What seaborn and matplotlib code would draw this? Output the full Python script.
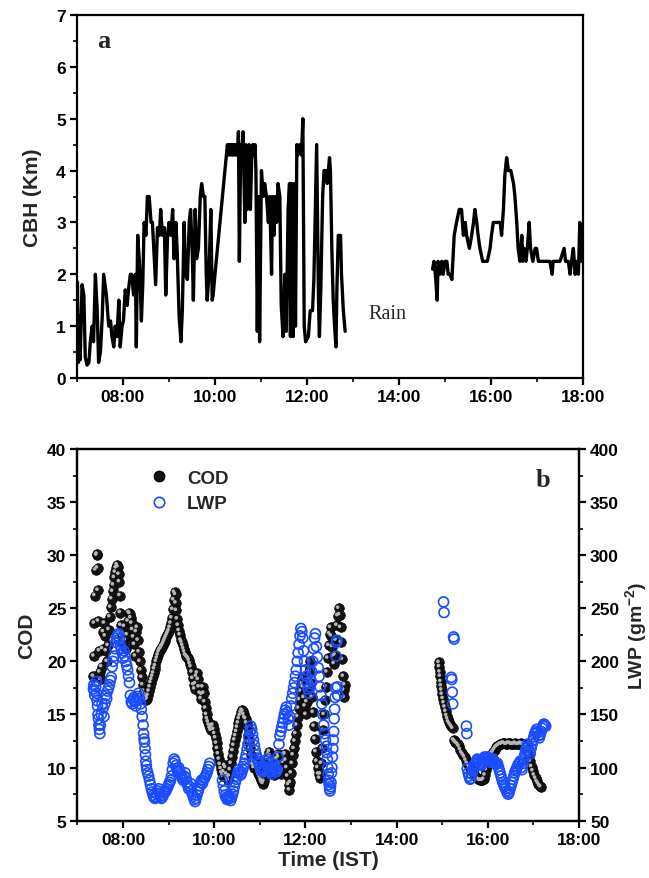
import matplotlib
matplotlib.use("Agg")
import matplotlib.pyplot as plt
from matplotlib.ticker import MultipleLocator, FuncFormatter
from matplotlib.lines import Line2D
from matplotlib.transforms import offset_copy
import numpy as np
import pandas as pd
import seaborn as sns

# ---------------- Cloud base height (km), morning record before rain ----------------
cbh_am_time = [
    7.00, 7.01, 7.03, 7.05, 7.07, 7.11, 7.15, 7.18, 7.22, 7.26, 7.29, 7.33, 7.36, 7.40,
    7.44, 7.47, 7.51, 7.55, 7.58, 7.64, 7.69, 7.73, 7.76, 7.80, 7.83, 7.87, 7.91, 7.94,
    7.98, 8.01, 8.05, 8.09, 8.12, 8.16, 8.19, 8.23, 8.27, 8.29, 8.32, 8.36, 8.40, 8.43,
    8.46, 8.50, 8.53, 8.57, 8.61, 8.64, 8.68, 8.71, 8.75, 8.79, 8.82, 8.86, 8.90, 8.93,
    8.97, 9.00, 9.04, 9.08, 9.11, 9.15, 9.18, 9.22, 9.26, 9.29, 9.33, 9.36, 9.40, 9.44,
    9.47, 9.51, 9.53, 9.57, 9.60, 9.64, 9.68, 9.71, 9.75, 9.78, 9.81, 9.83, 9.87, 9.91,
    9.94, 9.96, 10.00, 10.25, 10.27, 10.29, 10.31, 10.33, 10.35, 10.37, 10.39, 10.41,
    10.43, 10.45, 10.47, 10.49, 10.51, 10.53, 10.56, 10.58, 10.61, 10.65, 10.67, 10.70,
    10.74, 10.77, 10.80, 10.82, 10.85, 10.87, 10.89, 10.92, 10.95, 10.97, 11.01, 11.05,
    11.08, 11.12, 11.16, 11.19, 11.23, 11.25, 11.28, 11.31, 11.34, 11.37, 11.41, 11.44,
    11.48, 11.52, 11.55, 11.59, 11.62, 11.64, 11.67, 11.70, 11.73, 11.75, 11.78, 11.80,
    11.84, 11.88, 11.91, 11.94, 11.97, 12.03, 12.07, 12.12, 12.15, 12.21, 12.25, 12.27,
    12.30, 12.34, 12.37, 12.41, 12.44, 12.49, 12.51, 12.54, 12.57, 12.60, 12.63, 12.65,
    12.68, 12.73, 12.75, 12.79, 12.83,
]
cbh_am = [
    0.4, 1.85, 0.3, 1.2, 0.35, 1.8, 1.6, 0.4, 0.25, 0.3, 0.7, 1.0, 0.7, 2.0,
    1.3, 0.3, 0.5, 1.2, 2.0, 1.6, 1.0, 1.1, 0.8, 0.6, 1.0, 0.8, 1.5, 0.6,
    1.0, 1.1, 1.7, 1.4, 1.7, 2.0, 2.0, 1.6, 2.0, 0.6, 2.75, 2.2, 1.1, 1.8,
    3.0, 2.75, 3.5, 3.5, 3.0, 3.0, 2.3, 1.8, 2.9, 2.75, 3.25, 2.75, 2.9, 1.6,
    2.75, 3.0, 2.75, 3.25, 2.3, 3.0, 2.4, 1.2, 0.7, 1.3, 3.0, 2.0, 1.9, 3.0,
    3.25, 2.3, 1.5, 3.25, 2.3, 2.5, 3.5, 3.75, 3.5, 3.5, 2.0, 1.5, 2.0, 3.25,
    1.5, 1.6, 2.0, 4.3, 4.5, 4.3, 4.5, 4.3, 4.5, 4.3, 4.5, 4.3,
    4.5, 4.3, 4.5, 4.3, 4.75, 2.25, 4.5, 4.3, 4.75, 3.0, 4.5, 3.25,
    4.5, 3.25, 4.3, 4.5, 4.3, 4.5, 4.0, 0.9, 3.5, 0.7, 4.0, 3.5,
    3.75, 3.5, 3.0, 3.5, 2.0, 3.5, 2.75, 3.5, 3.0, 3.75, 3.5, 1.4,
    0.8, 2.0, 0.9, 3.25, 3.75, 0.8, 3.75, 0.8, 3.75, 1.0, 4.5, 4.3,
    4.5, 4.3, 5.0, 1.0, 0.7, 0.8, 1.3, 1.3, 1.9, 4.5, 1.5, 0.8,
    1.7, 3.5, 4.0, 4.0, 3.75, 4.25, 4.0, 2.5, 1.5, 1.0, 0.6, 1.7,
    2.75, 2.75, 2.0, 1.3, 0.9,
]

# ---------------- Cloud base height (km), afternoon record after rain ----------------
cbh_pm_time = [
    14.73, 14.76, 14.79, 14.83, 14.85, 14.89, 14.93, 14.96, 15.00, 15.04, 15.07, 15.11,
    15.15, 15.20, 15.25, 15.31, 15.36, 15.40, 15.44, 15.47, 15.53, 15.58, 15.62, 15.65,
    15.69, 15.72, 15.76, 15.82, 15.87, 15.92, 15.98, 16.01, 16.05, 16.12, 16.20, 16.23,
    16.27, 16.30, 16.34, 16.38, 16.43, 16.49, 16.52, 16.56, 16.59, 16.63, 16.67, 16.69,
    16.72, 16.76, 16.79, 16.83, 16.86, 16.91, 16.96, 16.99, 17.03, 17.08, 17.14, 17.21,
    17.28, 17.33, 17.35, 17.43, 17.50, 17.59, 17.62, 17.68, 17.72, 17.75, 17.79, 17.83,
    17.86, 17.90, 17.93, 17.97,
]
cbh_pm = [
    2.1, 2.25, 2.0, 1.5, 2.25, 2.0, 2.25, 2.0, 2.25, 2.25, 2.0, 2.0,
    1.9, 2.75, 3.0, 3.25, 3.25, 2.75, 3.0, 2.75, 2.5, 2.75, 3.0, 3.25,
    3.0, 2.75, 2.5, 2.25, 2.25, 2.25, 2.5, 2.75, 3.0, 3.0, 3.0, 2.75,
    3.25, 3.9, 4.25, 4.0, 4.0, 3.75, 3.5, 3.0, 2.5, 2.25, 2.75, 2.25,
    2.5, 2.25, 2.5, 3.0, 2.5, 2.25, 2.5, 2.5, 2.25, 2.25, 2.25, 2.25,
    2.25, 2.0, 2.25, 2.25, 2.25, 2.5, 2.25, 2.25, 2.0, 2.25, 2.5, 2.0,
    2.25, 2.0, 3.0, 2.25,
]

# ---------------- Cloud optical depth ----------------
cod_time = [
    7.35, 7.36, 7.37, 7.38, 7.40, 7.42, 7.43, 7.44, 7.45, 7.46, 7.48, 7.49, 7.51, 7.53,
    7.55, 7.57, 7.59, 7.61, 7.63, 7.65, 7.67, 7.69, 7.71, 7.73, 7.75, 7.77, 7.79, 7.81,
    7.83, 7.85, 7.87, 7.89, 7.91, 7.92, 7.93, 7.94, 7.95, 7.97, 7.99, 8.01, 8.03, 8.05,
    8.07, 8.09, 8.11, 8.13, 8.15, 8.17, 8.19, 8.21, 8.23, 8.25, 8.27, 8.29, 8.31, 8.33,
    8.35, 8.37, 8.39, 8.41, 8.43, 8.45, 8.47, 8.49, 8.51, 8.53, 8.55, 8.57, 8.59, 8.61,
    8.63, 8.65, 8.67, 8.69, 8.71, 8.73, 8.75, 8.77, 8.79, 8.81, 8.83, 8.85, 8.87, 8.89,
    8.91, 8.93, 8.95, 8.97, 8.99, 9.01, 9.03, 9.05, 9.07, 9.09, 9.11, 9.13, 9.15, 9.16,
    9.17, 9.19, 9.21, 9.23, 9.25, 9.27, 9.29, 9.31, 9.33, 9.35, 9.37, 9.39, 9.41, 9.43,
    9.45, 9.47, 9.49, 9.51, 9.53, 9.55, 9.57, 9.59, 9.61, 9.63, 9.65, 9.67, 9.69, 9.71,
    9.73, 9.75, 9.77, 9.79, 9.81, 9.83, 9.85, 9.87, 9.89, 9.91, 9.93, 9.95, 9.97, 9.99,
    10.01, 10.03, 10.05, 10.07, 10.09, 10.11, 10.13, 10.15, 10.17, 10.19, 10.21, 10.23,
    10.25, 10.27, 10.29, 10.31, 10.33, 10.35, 10.37, 10.39, 10.41, 10.43, 10.45, 10.47,
    10.49, 10.51, 10.53, 10.55, 10.57, 10.59, 10.61, 10.63, 10.65, 10.67, 10.69, 10.71,
    10.73, 10.75, 10.77, 10.79, 10.81, 10.83, 10.85, 10.87, 10.89, 10.91, 10.93, 10.95,
    10.97, 10.99, 11.01, 11.03, 11.05, 11.07, 11.09, 11.11, 11.13, 11.15, 11.17, 11.19,
    11.21, 11.23, 11.25, 11.27, 11.29, 11.31, 11.33, 11.35, 11.37, 11.39, 11.41, 11.43,
    11.45, 11.47, 11.49, 11.51, 11.53, 11.55, 11.57, 11.59, 11.61, 11.63, 11.65, 11.67,
    11.69, 11.71, 11.73, 11.75, 11.77, 11.79, 11.81, 11.83, 11.85, 11.87, 11.89, 11.91,
    11.93, 11.95, 11.97, 11.99, 12.01, 12.03, 12.05, 12.07, 12.09, 12.11, 12.13, 12.15,
    12.17, 12.19, 12.21, 12.23, 12.25, 12.27, 12.29, 12.31, 12.33, 12.35, 12.37, 12.39,
    12.41, 12.43, 12.45, 12.47, 12.49, 12.51, 12.53, 12.55, 12.57, 12.59, 12.61, 12.63,
    12.65, 12.67, 12.69, 12.71, 12.73, 12.75, 12.77, 12.79, 12.81, 12.83, 12.84, 12.85,
    12.86,
    14.93, 14.94, 14.95, 14.96, 14.97, 14.98, 14.99, 15.00, 15.02, 15.04, 15.06, 15.08,
    15.10, 15.12, 15.14, 15.17, 15.20, 15.23, 15.25, 15.27, 15.29, 15.31, 15.34, 15.37,
    15.40, 15.43, 15.46, 15.49, 15.52, 15.55, 15.58, 15.61, 15.64, 15.67, 15.70, 15.73,
    15.76, 15.79, 15.82, 15.85, 15.88, 15.91, 15.94, 15.97, 16.00, 16.03, 16.06, 16.09,
    16.12, 16.15, 16.18, 16.21, 16.24, 16.27, 16.30, 16.33, 16.36, 16.39, 16.42, 16.45,
    16.48, 16.51, 16.54, 16.57, 16.60, 16.63, 16.66, 16.69, 16.72, 16.75, 16.78, 16.81,
    16.84, 16.87, 16.90, 16.93, 16.96, 16.99, 17.02, 17.05, 17.08, 17.11, 17.14, 17.16,
]
cod = [
    18.6, 20.5, 23.6, 26.2, 28.6, 30.0, 30.1, 28.8, 26.7, 23.8, 21.0, 19.0, 18.3, 19.5,
    21.2, 22.8, 23.6, 22.4, 21.0, 20.0, 21.5, 23.0, 24.2, 25.1, 25.9, 26.6, 27.2, 27.9,
    28.4, 28.8, 29.1, 28.9, 28.2, 27.5, 26.2, 24.6, 23.4, 22.4, 21.8, 22.6, 23.3, 22.0,
    21.2, 22.5, 23.8, 24.6, 24.5, 24.1, 23.6, 23.0, 22.3, 21.6, 20.5, 22.8, 23.2, 22.0,
    20.9, 20.0, 19.2, 18.5, 17.8, 17.2, 16.9, 16.6, 16.4, 16.5, 16.8, 17.2, 17.6, 18.0,
    18.3, 18.6, 18.9, 19.3, 19.6, 20.0, 20.3, 20.6, 20.9, 21.1, 21.2, 21.4, 21.5, 21.7,
    21.9, 22.1, 22.3, 22.5, 22.7, 22.9, 23.2, 23.6, 24.1, 24.9, 25.8, 26.5, 26.3, 25.5,
    24.8, 24.0, 23.4, 22.9, 22.5, 22.0, 21.8, 21.5, 21.2, 20.9, 20.6, 20.5, 20.4, 20.3,
    20.1, 19.8, 19.5, 19.0, 18.4, 17.8, 17.4, 17.9, 18.6, 18.9, 18.3, 17.6, 17.0, 16.5,
    16.9, 17.6, 17.0, 16.2, 15.6, 15.0, 14.6, 14.3, 14.0, 13.7, 13.5, 13.9, 14.0, 13.6,
    13.2, 12.8, 12.3, 11.8, 11.3, 10.8, 10.3, 9.9, 9.5, 9.2, 9.6, 10.2,
    10.0, 9.4, 9.0, 8.8, 9.2, 9.8, 10.4, 11.0, 11.6, 12.1, 12.6, 13.0,
    13.4, 13.8, 14.2, 14.6, 14.9, 15.2, 15.4, 15.3, 15.0, 14.7, 14.6, 14.2,
    13.7, 13.1, 12.4, 11.8, 11.2, 10.7, 10.3, 10.0, 10.2, 10.5, 10.2, 9.8,
    9.5, 9.3, 9.1, 8.8, 8.6, 8.5, 8.7, 9.2, 9.8, 10.3, 10.8, 11.2,
    11.5, 11.1, 10.6, 10.1, 9.6, 9.3, 9.6, 10.2, 10.8, 11.3, 11.0, 10.4,
    9.8, 9.4, 9.8, 10.5, 11.2, 11.3, 10.7, 10.0, 9.2, 8.4, 7.9, 8.6,
    9.5, 10.4, 11.2, 11.8, 12.5, 13.2, 14.0, 14.8, 15.6, 16.4, 17.2, 17.9,
    18.4, 17.6, 16.6, 15.8, 15.0, 16.2, 17.5, 19.0, 20.0, 19.4, 18.0, 16.6,
    15.2, 13.9, 12.7, 11.5, 10.6, 10.0, 9.4, 9.0, 9.4, 10.4, 11.8, 13.5,
    15.0, 16.4, 17.6, 19.0, 20.3, 21.5, 22.6, 23.2, 22.4, 21.4, 20.5, 19.8,
    20.6, 22.0, 23.4, 24.3, 25.0, 24.4, 23.2, 21.8, 20.2, 18.6, 17.3, 16.6,
    17.8,
    19.9, 19.5, 19.0, 18.6, 18.1, 17.7, 17.3, 16.9, 16.5, 16.1, 15.7, 15.3,
    14.9, 14.6, 14.3, 14.1, 13.9, 13.7, 12.6, 12.5, 12.4, 12.3, 12.2, 12.0,
    11.7, 11.4, 11.2, 11.0, 10.7, 10.4, 10.2, 10.0, 9.8, 9.6, 9.4, 9.2,
    9.0, 8.9, 8.8, 8.8, 8.8, 8.9, 9.3, 9.8, 10.2, 10.6, 11.0, 11.3,
    11.5, 11.7, 11.9, 12.0, 12.1, 12.2, 12.2, 12.3, 12.3, 12.2, 12.2, 12.3,
    12.3, 12.2, 12.2, 12.2, 12.3, 12.2, 12.2, 12.2, 12.3, 12.2, 12.2, 12.1,
    12.0, 11.6, 11.1, 10.6, 10.1, 9.7, 9.3, 9.0, 8.7, 8.5, 8.3, 8.2,
]

# ---------------- Liquid water path (g m^-2) ----------------
lwp_time = [
    7.35, 7.36, 7.37, 7.38, 7.40, 7.41, 7.42, 7.43, 7.44, 7.45, 7.46, 7.47, 7.48, 7.49,
    7.50, 7.52, 7.54, 7.56, 7.58, 7.60, 7.62, 7.64, 7.66, 7.68, 7.70, 7.72, 7.74, 7.76,
    7.78, 7.80, 7.82, 7.84, 7.86, 7.88, 7.90, 7.92, 7.94, 7.96, 7.98, 8.00, 8.02, 8.04,
    8.06, 8.08, 8.10, 8.12, 8.14, 8.16, 8.18, 8.20, 8.22, 8.24, 8.26, 8.28, 8.30, 8.32,
    8.34, 8.36, 8.38, 8.40, 8.42, 8.44, 8.45, 8.46, 8.47, 8.48, 8.49, 8.50, 8.51, 8.52,
    8.54, 8.56, 8.58, 8.60, 8.62, 8.64, 8.66, 8.68, 8.70, 8.72, 8.74, 8.76, 8.78, 8.80,
    8.82, 8.84, 8.86, 8.88, 8.90, 8.92, 8.94, 8.96, 8.98, 9.00, 9.02, 9.04, 9.06, 9.08,
    9.10, 9.12, 9.14, 9.16, 9.18, 9.20, 9.22, 9.24, 9.26, 9.28, 9.30, 9.32, 9.34, 9.36,
    9.38, 9.40, 9.42, 9.44, 9.46, 9.48, 9.50, 9.52, 9.54, 9.56, 9.58, 9.60, 9.62, 9.64,
    9.66, 9.68, 9.70, 9.72, 9.74, 9.76, 9.78, 9.80, 9.82, 9.84, 9.86, 9.88, 9.90,
    10.18, 10.20, 10.22, 10.24, 10.26, 10.28, 10.30, 10.32, 10.34, 10.36, 10.38, 10.40,
    10.42, 10.44, 10.46, 10.48, 10.50, 10.52, 10.54, 10.56, 10.58, 10.60, 10.62, 10.64,
    10.66, 10.68, 10.70, 10.72, 10.74, 10.76, 10.78, 10.80, 10.82, 10.84, 10.86, 10.88,
    10.90, 10.92, 10.94, 10.96, 10.98, 11.00, 11.02, 11.04, 11.06, 11.08, 11.10, 11.12,
    11.14, 11.16, 11.18, 11.20, 11.22, 11.24, 11.26, 11.28, 11.30, 11.32, 11.34, 11.36,
    11.38, 11.40, 11.42, 11.44, 11.46, 11.48, 11.50, 11.52, 11.54, 11.56, 11.58, 11.60,
    11.62, 11.64, 11.66, 11.68, 11.70, 11.72, 11.74, 11.76, 11.78, 11.80, 11.82, 11.84,
    11.86, 11.88, 11.90, 11.92, 11.94, 11.96, 11.98, 12.00, 12.02, 12.04, 12.06, 12.08,
    12.10, 12.12, 12.14, 12.16, 12.18, 12.20, 12.22, 12.24, 12.26, 12.28, 12.30, 12.32,
    12.34, 12.36, 12.38, 12.40, 12.42, 12.44, 12.46, 12.47, 12.48, 12.49, 12.50, 12.51,
    12.52, 12.53, 12.54, 12.55, 12.56, 12.57, 12.58, 12.59, 12.60, 12.61, 12.62, 12.63,
    12.64, 12.65, 12.66, 12.67, 12.68, 12.69, 12.70, 12.71,
    15.03, 15.04, 15.20, 15.21, 15.22, 15.23, 15.25, 15.26, 15.53, 15.54,
    15.55, 15.57, 15.59, 15.61, 15.63, 15.65, 15.67, 15.69, 15.71, 15.73, 15.75, 15.77,
    15.79, 15.81, 15.83, 15.85, 15.87, 15.89, 15.91, 15.93, 15.95, 15.97, 15.99, 16.01,
    16.03, 16.05, 16.07, 16.09, 16.11, 16.13, 16.15, 16.17, 16.19, 16.21, 16.23, 16.25,
    16.27, 16.29, 16.31, 16.33, 16.35, 16.37, 16.39, 16.41, 16.43, 16.45, 16.47, 16.49,
    16.51, 16.53, 16.55, 16.57, 16.59, 16.61, 16.63, 16.65, 16.67, 16.69, 16.71, 16.73,
    16.75, 16.77, 16.79, 16.81, 16.83, 16.85, 16.87, 16.89, 16.91, 16.93, 16.95, 16.97,
    16.99, 17.01, 17.03, 17.05, 17.07, 17.09, 17.11, 17.13, 17.15, 17.17, 17.19, 17.21,
    17.23, 17.25, 17.27,
]
lwp = [
    174, 178, 172, 168, 176, 181, 170, 163, 158, 150, 146, 140, 136, 132,
    140, 150, 160, 156, 148, 160, 168, 165, 172, 175, 178, 182, 185, 195,
    200, 205, 212, 218, 222, 224, 226, 221, 215, 212, 208, 203, 210, 205,
    200, 196, 192, 186, 180, 168, 162, 160, 164, 166, 162, 158, 163, 167,
    170, 165, 160, 155, 148, 140, 132, 127, 124, 118, 112, 106, 102, 98,
    95, 92, 88, 84, 80, 77, 74, 72, 71, 72, 75, 78, 80, 76,
    73, 71, 72, 74, 76, 77, 78, 80, 82, 84, 86, 88, 92, 98,
    104, 108, 106, 102, 99, 96, 100, 97, 94, 92, 90, 88, 92, 95,
    90, 86, 83, 80, 82, 85, 78, 75, 73, 70, 68, 71, 74, 77,
    80, 83, 86, 88, 85, 88, 90, 91, 93, 95, 98, 101, 104,
    88, 83, 78, 74, 72, 70, 71, 73, 71, 69, 72, 75,
    78, 82, 86, 89, 92, 95, 98, 96, 93, 95, 98, 101,
    104, 108, 112, 117, 122, 128, 134, 139, 136, 131, 126, 121,
    116, 112, 109, 106, 104, 101, 99, 97, 96, 98, 100, 103,
    106, 108, 104, 100, 98, 96, 94, 97, 100, 103, 99, 96,
    98, 110, 122, 130, 134, 138, 142, 146, 150, 154, 157, 152,
    146, 140, 148, 158, 165, 170, 175, 180, 186, 192, 200, 208,
    216, 224, 231, 228, 222, 210, 200, 192, 186, 180, 174, 170,
    176, 182, 190, 200, 212, 222, 226, 214, 204, 194, 186, 176,
    168, 160, 150, 140, 132, 126, 120, 114, 108, 100, 94, 88,
    84, 80, 78, 82, 86, 95, 100, 110, 118, 126, 134, 146,
    155, 166, 175, 205, 218, 220, 176, 168,
    256, 246, 185, 183, 171, 160, 223, 221, 139, 132,
    99, 95, 92, 89, 90, 94, 97, 100, 103, 104, 106, 108,
    107, 105, 103, 102, 104, 106, 108, 110, 109, 108, 110, 109,
    107, 106, 105, 106, 108, 107, 105, 104, 103, 104, 101, 98,
    95, 92, 89, 86, 84, 82, 80, 78, 76, 75, 77, 80,
    83, 86, 89, 92, 95, 97, 99, 101, 103, 104, 106, 100,
    98, 104, 108, 112, 116, 119, 122, 120, 115, 113, 118, 122,
    126, 129, 132, 134, 136, 133, 130, 128, 131, 134, 137, 139,
    141, 140, 139,
]

hour_ticks = [8, 10, 12, 14, 16, 18]

# ---------------- style ----------------
sns.set_theme(style="ticks")
plt.rcParams["font.family"] = ["Liberation Sans", "DejaVu Sans"]
plt.rcParams["font.weight"] = "bold"
plt.rcParams["axes.linewidth"] = 1.6
plt.rcParams["mathtext.fontset"] = "custom"
plt.rcParams["mathtext.rm"] = "Liberation Sans:bold"
plt.rcParams["mathtext.bf"] = "Liberation Sans:bold"
plt.rcParams["mathtext.default"] = "rm"

tick_fs = 12.5
label_fs = 15


def hhmm(v, pos=None):
    return f"{int(round(v)):02d}:00"


def style_axis(ax):
    ax.set_xlim(7, 18)
    ax.xaxis.set_major_locator(plt.FixedLocator(hour_ticks))
    ax.xaxis.set_minor_locator(MultipleLocator(1))
    ax.xaxis.set_major_formatter(FuncFormatter(hhmm))
    ax.tick_params(axis="both", which="major", direction="out", length=5, width=1.6,
                   labelsize=tick_fs, pad=3, colors="black")
    ax.tick_params(axis="both", which="minor", direction="out", length=3, width=1.4)
    for lab in ax.get_xticklabels() + ax.get_yticklabels():
        lab.set_fontweight("bold")
    for sp in ax.spines.values():
        sp.set_visible(True)
        sp.set_color("black")
        sp.set_linewidth(1.6)


fig = plt.figure(figsize=(6.49, 8.79), dpi=100)

# ---------------- panel a: cloud base height ----------------
ax1 = fig.add_axes([0.1186, 0.5688, 0.7797, 0.4130])
cbh_df = pd.concat([
    pd.DataFrame({"time": cbh_am_time, "cbh": cbh_am, "part": "am"}),
    pd.DataFrame({"time": cbh_pm_time, "cbh": cbh_pm, "part": "pm"}),
])
sns.lineplot(data=cbh_df, x="time", y="cbh", units="part", estimator=None,
             sort=False, color="black", lw=2.4, ax=ax1)
ax1.set_ylim(0, 7)
ax1.yaxis.set_major_locator(MultipleLocator(1))
ax1.yaxis.set_minor_locator(MultipleLocator(0.5))
style_axis(ax1)
ax1.tick_params(top=False, right=False, which="both")
ax1.set_xlabel("")
ax1.set_ylabel("CBH (Km)", fontsize=label_fs, fontweight="bold", labelpad=10)
ax1.text(0.052, 0.93, "a", transform=ax1.transAxes, fontsize=19, fontweight="bold",
         family=["Liberation Serif", "DejaVu Serif"], ha="center", va="center")
ax1.text(13.33, 1.25, "Rain", fontsize=14.5, fontweight="normal",
         family=["Liberation Serif", "DejaVu Serif"], ha="left", va="center")

# ---------------- panel b: COD and LWP ----------------
ax2 = fig.add_axes([0.1194, 0.0652, 0.7727, 0.4229])
ax3 = ax2.twinx()

cod_df = pd.DataFrame({"time": cod_time, "cod": cod})
lwp_df = pd.DataFrame({"time": lwp_time, "lwp": lwp})

sns.scatterplot(data=cod_df, x="time", y="cod", ax=ax2, s=48, color="#141414",
                edgecolor="black", linewidth=0.5, zorder=3)
# light sheen on each bead
sheen = offset_copy(ax2.transData, fig=fig, x=-0.8, y=0.8, units="points")
sns.scatterplot(data=cod_df, x="time", y="cod", ax=ax2, s=7, color="#b5b5b5",
                edgecolor="none", linewidth=0, transform=sheen, zorder=4)

sns.scatterplot(data=lwp_df, x="time", y="lwp", ax=ax3, s=52, marker="o",
                facecolor="none", edgecolor="#1a4dff", linewidth=1.2, zorder=5)

ax2.set_ylim(5, 40)
ax2.yaxis.set_major_locator(MultipleLocator(5))
ax2.yaxis.set_minor_locator(MultipleLocator(2.5))
ax3.set_ylim(50, 400)
ax3.yaxis.set_major_locator(MultipleLocator(50))
ax3.yaxis.set_minor_locator(MultipleLocator(25))
style_axis(ax2)
style_axis(ax3)
ax2.tick_params(top=False, right=False, which="both")
ax3.tick_params(top=False, left=False, which="both")

ax2.set_xlabel("Time (IST)", fontsize=label_fs, fontweight="bold", labelpad=2)
ax2.set_ylabel("COD", fontsize=label_fs, fontweight="bold", labelpad=8)
ax3.set_ylabel("LWP (gm$^{-2}$)", fontsize=14, fontweight="bold", labelpad=3)
ax3.set_xlabel("")

ax3.text(0.928, 0.917, "b", transform=ax3.transAxes, fontsize=19, fontweight="bold",
         family=["Liberation Serif", "DejaVu Serif"], ha="center", va="center")

handles = [
    Line2D([], [], ls="none", marker="o", markersize=7.5, markerfacecolor="#141414",
           markeredgecolor="black"),
    Line2D([], [], ls="none", marker="o", markersize=7.5, markerfacecolor="none",
           markeredgecolor="#1a4dff", markeredgewidth=1.2),
]
leg = ax3.legend(handles, ["COD", "LWP"], loc="upper left", bbox_to_anchor=(0.11, 0.99),
                 frameon=False, handlelength=1.0, handletextpad=1.0, labelspacing=0.45,
                 prop={"size": 13.5, "weight": "bold"})

fig.savefig("out.png", dpi=100)
